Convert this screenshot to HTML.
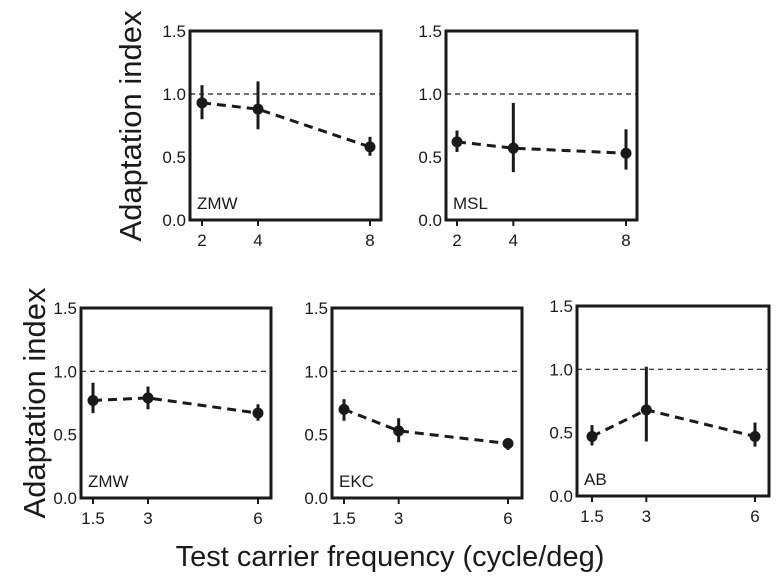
<!DOCTYPE html>
<html><head><meta charset="utf-8"><style>
html,body{margin:0;padding:0;background:#fff;width:779px;height:588px;overflow:hidden}
svg text{font-family:"Liberation Sans",sans-serif;fill:#1a1a1a}
</style></head><body>
<svg id="chart" width="779" height="588" viewBox="0 0 779 588" xmlns="http://www.w3.org/2000/svg">
<text transform="translate(141,126) rotate(-90)" text-anchor="middle" font-size="31">Adaptation index</text>
<text transform="translate(45,403) rotate(-90)" text-anchor="middle" font-size="31">Adaptation index</text>
<text x="390" y="566" text-anchor="middle" font-size="29">Test carrier frequency (cycle/deg)</text>
</svg>
<script>
const labels = ["ZMW","MSL","ZMW","EKC","AB"];
const xCats = [[2,4,8],[2,4,8],[1.5,3,6],[1.5,3,6],[1.5,3,6]];
const means = [[0.93,0.88,0.58],[0.62,0.57,0.53],[0.77,0.79,0.67],[0.70,0.53,0.43],[0.47,0.68,0.47]];
const lows  = [[0.80,0.72,0.51],[0.54,0.38,0.40],[0.67,0.70,0.61],[0.61,0.44,0.38],[0.40,0.43,0.39]];
const highs = [[1.07,1.10,0.66],[0.71,0.93,0.72],[0.91,0.88,0.74],[0.78,0.63,0.47],[0.56,1.02,0.58]];
const yTicks = [0,0.5,1,1.5];
const yTickLabels = ["0.0","0.5","1.0","1.5"];
const xTickLabels = [["2","4","8"],["2","4","8"],["1.5","3","6"],["1.5","3","6"],["1.5","3","6"]];
const refLevel = 1.0;

// layout (not data)
const boxes = [
 {l:190,r:381,t:31,b:220,x0:202,x1:370},
 {l:446,r:637,t:31,b:220,x0:457,x1:626},
 {l:81,r:271,t:308,b:498,x0:93,x1:258},
 {l:332,r:522,t:308,b:498,x0:344,x1:508},
 {l:577,r:769,t:306,b:496,x0:592,x1:755}
];
const svg = document.getElementById('chart');
const NS = "http://www.w3.org/2000/svg";
function mk(tag, attrs){const e=document.createElementNS(NS,tag);for(const k in attrs)e.setAttribute(k,attrs[k]);svg.appendChild(e);return e;}

boxes.forEach((B,i)=>{
  const xs=xCats[i], xmin=xs[0], xmax=xs[xs.length-1];
  const X=v=>B.x0+(v-xmin)/(xmax-xmin)*(B.x1-B.x0);
  const Y=v=>B.b-(v/1.5)*(B.b-B.t);
  const frame=mk('rect',{x:B.l,y:B.t,width:B.r-B.l,height:B.b-B.t,fill:'none',stroke:'#1a1a1a','stroke-width':3});
  
  
  const ref=mk('line',{x1:B.l,x2:B.r,y1:Y(refLevel),y2:Y(refLevel),stroke:'#1a1a1a','stroke-width':1.2,'stroke-dasharray':'5,4'});
  
  
  yTicks.forEach((v,k)=>{
    const t=mk('text',{x:B.l-4,y:Y(v)+6,'text-anchor':'end','font-size':17});
    t.textContent=yTickLabels[k];
    
    
  });
  xs.forEach((v,k)=>{
    const tk=mk('line',{x1:X(v),x2:X(v),y1:B.b,y2:B.b+6,stroke:'#1a1a1a','stroke-width':2});
    
    
    const t=mk('text',{x:X(v),y:B.b+26,'text-anchor':'middle','font-size':17});
    t.textContent=xTickLabels[i][k];
    
    
  });
  const lab=mk('text',{x:B.l+7,y:B.b-11,'font-size':17});
  lab.textContent=labels[i];
  
  
  const pts=xs.map((v,k)=>X(v)+','+Y(means[i][k])).join(' ');
  const pl=mk('polyline',{points:pts,fill:'none',stroke:'#1a1a1a','stroke-width':3,'stroke-dasharray':'9,6'});
  
  
  xs.forEach((v,k)=>{
    const eb=mk('line',{x1:X(v),x2:X(v),y1:Y(lows[i][k]),y2:Y(highs[i][k]),stroke:'#1a1a1a','stroke-width':3});
    
    
    const c=mk('circle',{cx:X(v),cy:Y(means[i][k]),r:5.5,fill:'#1a1a1a'});
    
    
  });
});
</script>
</body></html>
